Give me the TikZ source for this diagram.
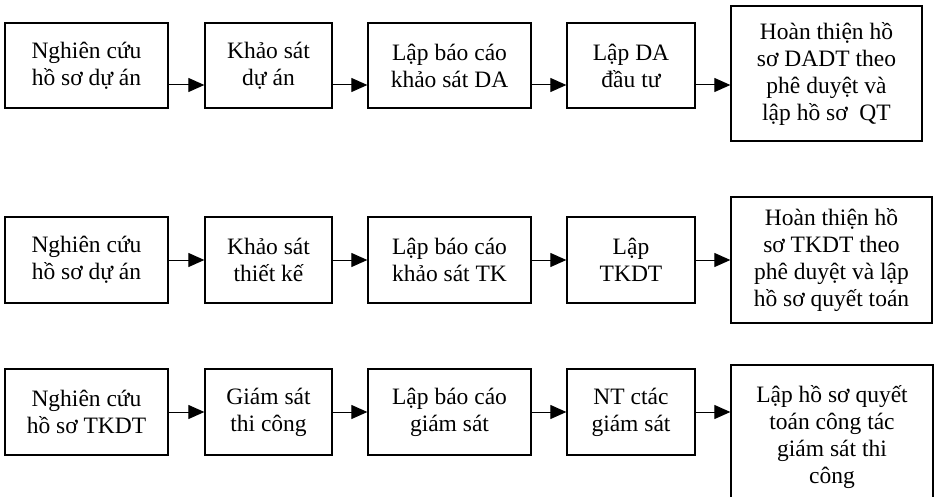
\documentclass[tikz,border=0pt]{standalone}
\usepackage{fontspec}
\setmainfont{Liberation Serif}
\usetikzlibrary{arrows.meta}
\begin{document}
\begin{tikzpicture}[x=1pt,y=-1pt,
  box/.style={draw=black, line width=1.3pt, inner sep=0pt, align=center,
    font=\fontsize{23.5}{27}\selectfont},
  arr/.style={line width=1pt, -{Triangle[length=16pt,width=14pt]}}]
\useasboundingbox (0,0) rectangle (936,497);
% Row 1
\node[box, minimum width=163pt, minimum height=85pt] (b11) at (86.5,65.5) {Nghiên cứu\\hồ sơ dự án};
\node[box, minimum width=127pt, minimum height=85pt] (b12) at (268.5,65.5) {Khảo sát\\dự án};
\node[box, minimum width=163pt, minimum height=85pt] (b13) at (449.5,65.5) {Lập báo cáo\\khảo sát DA};
\node[box, minimum width=128pt, minimum height=85pt] (b14) at (631,65.5) {Lập DA\\đầu tư};
\node[box, minimum width=191pt, minimum height=135pt] (b15) at (826.5,73.5) {Hoàn thiện hồ\\sơ DADT theo\\phê duyệt và\\lập hồ sơ\ \ QT};
\draw[arr] ([yshift=-19.5pt]b11.east) -- ([yshift=-19.5pt]b11.east -| b12.west);
\draw[arr] ([yshift=-19.5pt]b12.east) -- ([yshift=-19.5pt]b12.east -| b13.west);
\draw[arr] ([yshift=-19.5pt]b13.east) -- ([yshift=-19.5pt]b13.east -| b14.west);
\draw[arr] ([yshift=-19.5pt]b14.east) -- ([yshift=-19.5pt]b14.east -| b15.west);
% Row 2
\node[box, minimum width=163pt, minimum height=86pt] (b21) at (86.5,260) {Nghiên cứu\\hồ sơ dự án};
\node[box, minimum width=127pt, minimum height=86pt] (b22) at (268.5,260) {Khảo sát\\thiết kế};
\node[box, minimum width=163pt, minimum height=86pt] (b23) at (449.5,260) {Lập báo cáo\\khảo sát TK};
\node[box, minimum width=128pt, minimum height=86pt] (b24) at (631,260) {Lập\\TKDT};
\node[box, minimum width=201pt, minimum height=126pt] (b25) at (831.5,260) {Hoàn thiện hồ\\sơ TKDT theo\\phê duyệt và lập\\hồ sơ quyết toán};
\draw[arr] (b21.east) -- (b22.west);
\draw[arr] (b22.east) -- (b23.west);
\draw[arr] (b23.east) -- (b24.west);
\draw[arr] (b24.east) -- (b25.west);
% Row 3
\node[box, minimum width=163pt, minimum height=86pt] (b31) at (86.5,412) {Nghiên cứu\\hồ sơ TKDT};
\node[box, minimum width=127pt, minimum height=86pt] (b32) at (268.5,412) {Giám sát\\thi công};
\node[box, minimum width=163pt, minimum height=86pt] (b33) at (449.5,412) {Lập báo cáo\\giám sát};
\node[box, minimum width=128pt, minimum height=86pt] (b34) at (631,412) {NT ctác\\giám sát};
\node[box, minimum width=202pt, minimum height=145pt] (b35) at (832,437.5) {Lập hồ sơ quyết\\toán công tác\\giám sát thi\\công};
\draw[arr] (b31.east) -- (b32.west);
\draw[arr] (b32.east) -- (b33.west);
\draw[arr] (b33.east) -- (b34.west);
\draw[arr] (b34.east) -- (b34.east -| b35.west);
\end{tikzpicture}
\end{document}
